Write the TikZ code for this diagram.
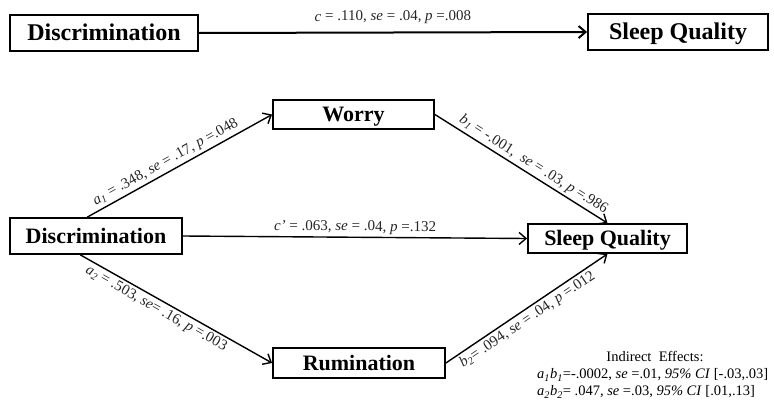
\documentclass[tikz,border=0pt]{standalone}
\usepackage{fontspec}
\setmainfont{Liberation Serif}
\usetikzlibrary{arrows.meta,calc}
\begin{document}
\begin{tikzpicture}[x=1pt,y=-1pt,
  box/.style={draw, line width=1.8pt, inner sep=0pt, text height=14.5pt, text depth=0pt, font=\fontsize{22}{22}\selectfont\bfseries},
  bigbox/.style={box, text height=15.8pt, font=\fontsize{24}{24}\selectfont\bfseries},
  lbl/.style={font=\fontsize{15}{15}\selectfont, text=black!85, sloped, inner sep=2.5pt},
  arr/.style={line width=1.4pt, -{Straight Barb[length=7pt,width=12pt]}},
  note/.style={font=\fontsize{14.5}{14.5}\selectfont, inner sep=0pt}]
\useasboundingbox (0,0) rectangle (774,407);
\node[bigbox, minimum width=188pt, minimum height=36pt] (dtop) at (104,33) {Discrimination};
\node[bigbox, minimum width=180pt, minimum height=36pt] (stop) at (678,32) {Sleep Quality};
\node[box, minimum width=161pt, minimum height=29pt] (worry) at (353.5,114.5) {Worry};
\node[box, minimum width=172pt, minimum height=36pt] (disc) at (96,236) {Discrimination};
\node[box, minimum width=159pt, minimum height=29pt] (sleep) at (607.5,238.5) {Sleep Quality};
\node[box, minimum width=172pt, minimum height=30pt] (rum) at (359,363) {Rumination};
\draw[arr, line width=2pt] (dtop.east) -- node[lbl, above=5pt] {\textit{c} = .110, \textit{se} = .04, \textit{p} =.008} (stop.west);
\draw[arr] ($(disc.north west)!0.45!(disc.north east)$) -- node[lbl, above, pos=0.45] {\textit{a}\textsubscript{\textit{1}} = .348, \textit{se} = .17, \textit{p} =.048} (worry.west);
\draw[arr] (worry.east) -- node[lbl, above, pos=0.54] {\textit{b}\textsubscript{\textit{1}} = -.001,\ \ \textit{se} = .03, \textit{p} =.986} (sleep.north);
\draw[arr] ($(disc.south west)!0.41!(disc.south east)$) -- node[lbl, below, pos=0.42] {\textit{a}\textsubscript{\textit{2}} = .503, \textit{se}= .16, \textit{p} =.003} (rum.west);
\draw[arr] (rum.east) -- node[lbl, below, pos=0.47] {\textit{b}\textsubscript{\textit{2}}= .094, \textit{se} = .04, \textit{p} =.012} (sleep.south);
\draw[arr] (disc.east) -- node[lbl, above, pos=0.5] {\textit{c’} = .063, \textit{se} = .04, \textit{p} =.132} (sleep.west);
\node[note] (ieh) at (655,356) {Indirect\ \ Effects:};
\node[note, anchor=west] (ie1) at (537,375) {\textit{a}\textsubscript{\textit{1}}\textit{b}\textsubscript{\textit{1}}=-.0002, \textit{se} =.01, \textit{95\% CI} [-.03,.03]};
\node[note, anchor=west] (ie2) at (537,392) {\textit{a}\textsubscript{\textit{2}}\textit{b}\textsubscript{\textit{2}}= .047, \textit{se} =.03, \textit{95\% CI} [.01,.13]};
\end{tikzpicture}
\end{document}
